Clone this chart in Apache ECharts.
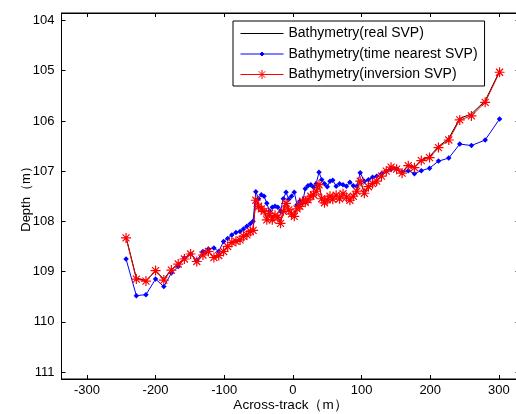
<!DOCTYPE html>
<html>
<head>
<meta charset="utf-8">
<title>Bathymetry comparison</title>
<script src="https://cdn.jsdelivr.net/npm/echarts@6/dist/echarts.min.js"></script>
<style>
  html, body { margin: 0; padding: 0; background: #fff; }
  #chart { width: 516px; height: 414px; }
</style>
</head>
<body>
<div id="chart"></div>
<script>
/* ========================================
   Bathymetry profiles — three SVP variants
   ======================================== */

// across-track positions (m), shared by every profile
var acrossTrack = [
  -243, -228, -214, -200, -188, -177, -167, -158, -149, -140,
  -131, -123, -115, -108, -101, -95, -89, -83, -77, -72,
  -67, -62, -58, -54, -50, -46, -42, -38, -34, -30,
  -26, -22, -18, -14, -10, -6, -2, 2, 6, 10,
  14, 18, 22, 26, 30, 34, 38, 42, 46, 50,
  54, 58, 63, 68, 73, 78, 83, 88, 93, 98,
  104, 110, 116, 122, 129, 136, 143, 151, 159, 168,
  177, 187, 199, 212, 227, 243, 260, 280, 301
];

// depth (m) with the real sound velocity profile
var depthReal = [
  108.31, 109.13, 109.18, 108.99, 109.15, 108.96, 108.84, 108.74, 108.64, 108.79,
  108.66, 108.60, 108.71, 108.67, 108.59, 108.49, 108.41, 108.39, 108.36, 108.29,
  108.26, 108.19, 108.17, 107.55, 107.69, 107.74, 107.79, 107.95, 107.83, 107.95,
  107.87, 107.91, 108.02, 107.78, 107.63, 107.76, 107.84, 107.88, 107.74, 107.69,
  107.59, 107.61, 107.56, 107.49, 107.46, 107.39, 107.25, 107.54, 107.62, 107.56,
  107.49, 107.55, 107.47, 107.54, 107.44, 107.51, 107.57, 107.49, 107.39, 107.18,
  107.43, 107.30, 107.24, 107.19, 107.09, 106.99, 106.91, 106.95, 107.03, 106.88,
  106.92, 106.78, 106.71, 106.51, 106.35, 105.95, 105.86, 105.60, 105.01
];

// depth (m) with the time-nearest sound velocity profile
var depthNearest = [
  108.75, 109.48, 109.46, 109.15, 109.30, 109.03, 108.90, 108.73, 108.65, 108.78,
  108.60, 108.55, 108.53, 108.60, 108.40, 108.34, 108.27, 108.22, 108.20, 108.15,
  108.10, 108.05, 108.00, 107.41, 107.55, 107.47, 107.50, 107.64, 107.80, 107.72,
  107.70, 107.72, 107.80, 107.55, 107.42, 107.56, 107.50, 107.42, 107.67, 107.60,
  107.63, 107.35, 107.29, 107.27, 107.32, 107.25, 107.02, 107.17, 107.25, 107.31,
  107.20, 107.18, 107.30, 107.25, 107.27, 107.30, 107.22, 107.29, 107.30, 107.03,
  107.20, 107.17, 107.12, 107.10, 107.05, 107.00, 106.96, 106.95, 107.02, 106.99,
  107.05, 106.99, 106.94, 106.80, 106.74, 106.46, 106.49, 106.38, 105.96
];

// depth (m) with the inverted sound velocity profile
var depthInversion = [
  108.33, 109.15, 109.19, 108.98, 109.17, 108.97, 108.85, 108.75, 108.65, 108.80,
  108.67, 108.60, 108.72, 108.68, 108.60, 108.50, 108.42, 108.40, 108.37, 108.30,
  108.27, 108.20, 108.18, 107.58, 107.70, 107.75, 107.80, 107.97, 107.84, 107.97,
  107.88, 107.92, 108.04, 107.80, 107.64, 107.77, 107.85, 107.90, 107.75, 107.70,
  107.60, 107.62, 107.57, 107.50, 107.47, 107.40, 107.27, 107.55, 107.63, 107.57,
  107.50, 107.56, 107.48, 107.55, 107.45, 107.52, 107.58, 107.50, 107.40, 107.20,
  107.44, 107.31, 107.25, 107.20, 107.10, 107.00, 106.92, 106.96, 107.04, 106.89,
  106.93, 106.79, 106.73, 106.53, 106.38, 105.98, 105.90, 105.63, 105.03
];

var xTicks = [-300, -200, -100, 0, 100, 200, 300];
var yTicks = [104, 105, 106, 107, 108, 109, 110, 111];

var seriesNames = [
  'Bathymetry(real SVP)',
  'Bathymetry(time nearest SVP)',
  'Bathymetry(inversion SVP)'
];

var ASTERISK = 'path://M10,0L10,20M0,10L20,10M3,3L17,17M3,17L17,3';
// legend icons drawn in a 43x14 box: line sample with the marker in the middle
var ICON_LINE = 'path://M0,0M0,7L43,7M43,14';
var ICON_DOT = 'path://M0,0M0,7L43,7M21.5,5L23.5,7L21.5,9L19.5,7ZM43,14';
var ICON_STAR = 'path://M0,0M0,7L43,7M21.5,2.5L21.5,11.5M17,7L26,7M18.3,3.8L24.7,10.2M18.3,10.2L24.7,3.8M43,14';

var FONT = 'Liberation Sans, Arial, sans-serif';
var TICK_FONT = 'Liberation Sans Narrow, Arial Narrow, Liberation Sans, Arial, sans-serif';

function pairs(xs, ys) {
  var out = [];
  for (var i = 0; i < xs.length; i++) out.push([xs[i], ys[i]]);
  return out;
}

var chart = echarts.init(document.getElementById('chart'), null, { renderer: 'canvas' });

var tickStyle = { inside: true, length: 4, lineStyle: { color: '#000', width: 1 } };

var option = {
  animation: false,
  backgroundColor: '#fff',
  textStyle: { fontFamily: FONT },
  grid: {
    left: 61.5,
    top: 13,
    width: 458,
    height: 366,
    outerBoundsMode: 'none',
    containLabel: false,
    show: true,
    borderColor: '#000',
    borderWidth: 1,
    backgroundColor: '#fff'
  },
  legend: {
    orient: 'vertical',
    left: 233,
    top: 21,
    padding: [5, 7, 4, 7],
    itemWidth: 43,
    itemHeight: 14,
    itemGap: 5.5,
    backgroundColor: '#fff',
    borderColor: '#000',
    borderWidth: 1,
    borderRadius: 0,
    z: 10,
    textStyle: { fontFamily: FONT, fontSize: 14, color: '#000' },
    data: [
      { name: seriesNames[0], icon: ICON_LINE, itemStyle: { color: 'rgba(0,0,0,0)', borderColor: '#000', borderWidth: 1 } },
      { name: seriesNames[1], icon: ICON_DOT, itemStyle: { color: '#0000ff', borderColor: '#0000ff', borderWidth: 1 } },
      { name: seriesNames[2], icon: ICON_STAR, itemStyle: { color: 'rgba(255,0,0,0)', borderColor: '#ff0000', borderWidth: 1 } }
    ]
  },
  xAxis: [
    {
      type: 'value',
      min: -337,
      max: 330,
      name: 'Across-track（m）',
      nameLocation: 'middle',
      nameGap: 19,
      nameMoveOverlap: false,
      nameTextStyle: { fontFamily: FONT, fontSize: 13.5, color: '#000' },
      axisLine: { onZero: false, lineStyle: { color: '#000', width: 1 } },
      axisTick: Object.assign({ customValues: xTicks }, tickStyle),
      axisLabel: { customValues: xTicks, margin: 5, fontSize: 13, color: '#000', fontFamily: TICK_FONT },
      splitLine: { show: false }
    },
    {
      type: 'value',
      position: 'top',
      min: -337,
      max: 330,
      axisLine: { onZero: false, lineStyle: { color: '#000', width: 1 } },
      axisTick: Object.assign({ customValues: xTicks }, tickStyle),
      axisLabel: { show: false },
      splitLine: { show: false }
    }
  ],
  yAxis: [
    {
      type: 'value',
      inverse: true,
      min: 103.85,
      max: 111.14,
      name: 'Depth（m）',
      nameLocation: 'middle',
      nameGap: 29,
      nameMoveOverlap: false,
      nameRotate: 90,
      nameTextStyle: { fontFamily: FONT, fontSize: 13, color: '#000' },
      axisLine: { onZero: false, lineStyle: { color: '#000', width: 1 } },
      axisTick: Object.assign({ customValues: yTicks }, tickStyle),
      axisLabel: { customValues: yTicks, margin: 7, fontSize: 13, color: '#000', fontFamily: TICK_FONT },
      splitLine: { show: false }
    },
    {
      type: 'value',
      position: 'right',
      inverse: true,
      min: 103.85,
      max: 111.14,
      axisLine: { onZero: false, lineStyle: { color: '#000', width: 1 } },
      axisTick: Object.assign({ customValues: yTicks }, tickStyle),
      axisLabel: { show: false },
      splitLine: { show: false }
    }
  ],
  series: [
    {
      name: seriesNames[0],
      type: 'line',
      data: pairs(acrossTrack, depthReal),
      symbol: 'none',
      lineStyle: { color: '#000', width: 1 },
      itemStyle: { color: '#000' },
      z: 2
    },
    {
      name: seriesNames[1],
      type: 'line',
      data: pairs(acrossTrack, depthNearest),
      symbol: 'diamond',
      symbolSize: 5.5,
      showAllSymbol: true,
      lineStyle: { color: '#0000ff', width: 1 },
      itemStyle: { color: '#0000ff' },
      z: 3
    },
    {
      name: seriesNames[2],
      type: 'line',
      data: pairs(acrossTrack, depthInversion),
      symbol: ASTERISK,
      symbolSize: 10,
      showAllSymbol: true,
      lineStyle: { color: '#ff0000', width: 1 },
      itemStyle: { color: 'rgba(255,0,0,0)', borderColor: '#ff0000', borderWidth: 1.2 },
      z: 4
    }
  ]
};

chart.setOption(option);
</script>
</body>
</html>
